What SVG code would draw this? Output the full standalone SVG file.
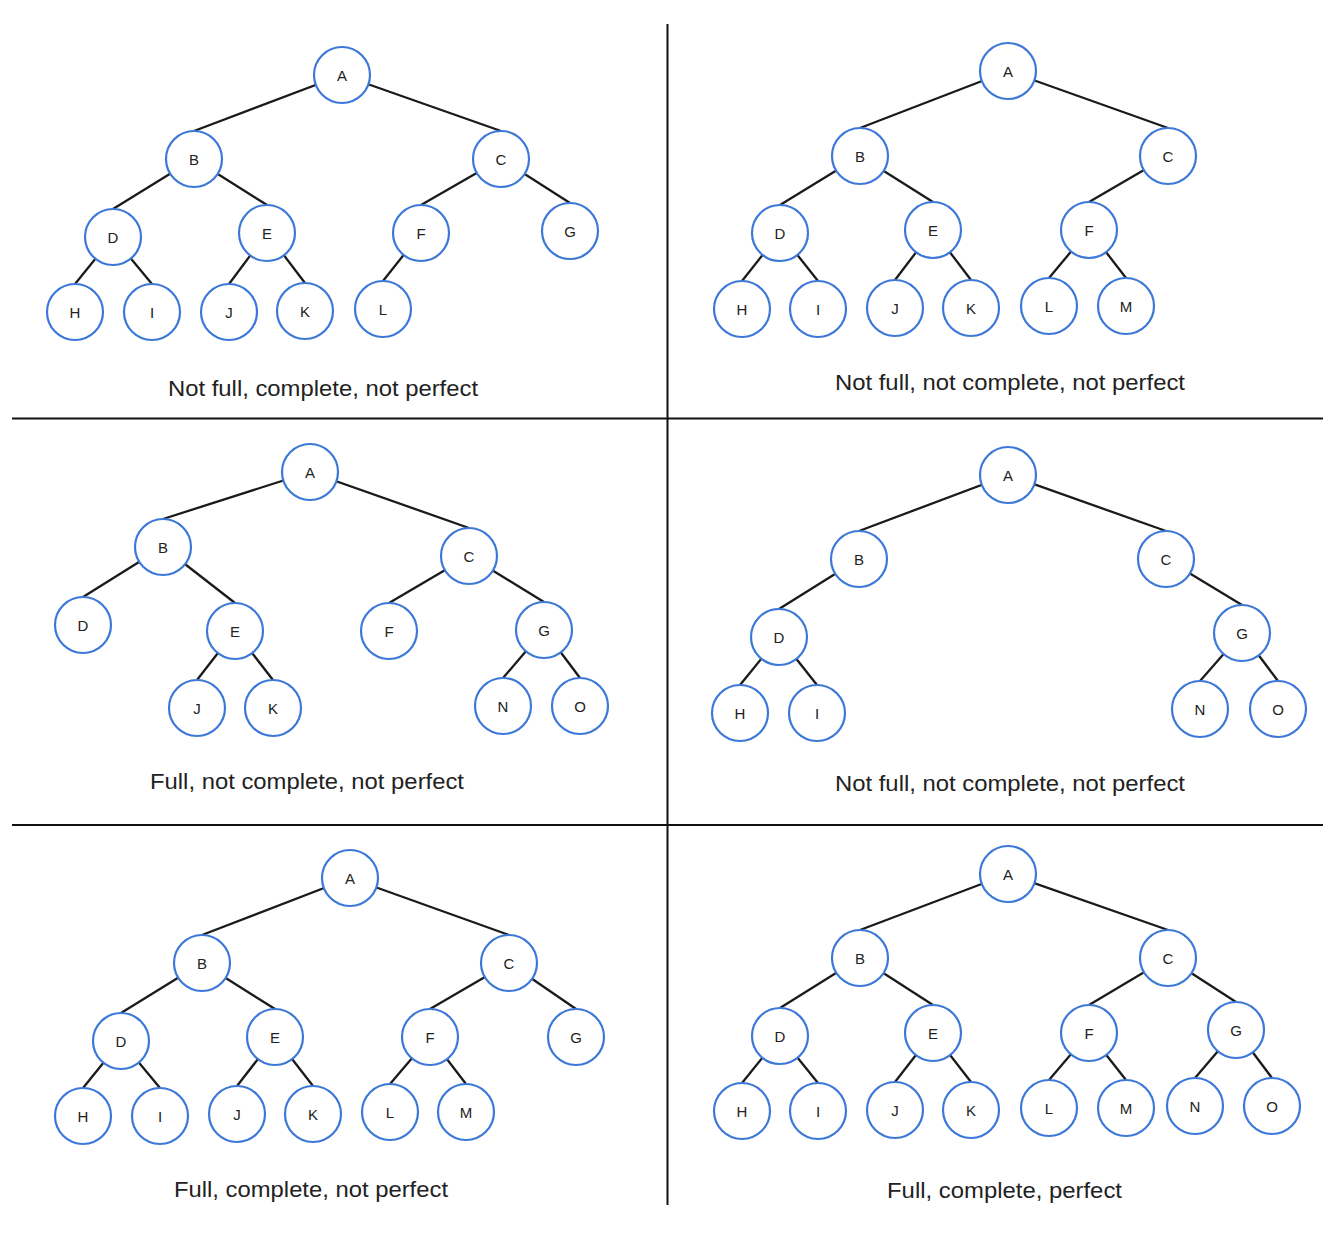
<svg xmlns="http://www.w3.org/2000/svg" width="1334" height="1236" viewBox="0 0 1334 1236">
<style>
.node circle{fill:#fff;stroke:#3c78d8;stroke-width:2.2}
.node text{font-family:"Liberation Sans",Arial,sans-serif;font-size:15px;fill:#222;text-anchor:middle}
.edges line{stroke:#1a1a1a;stroke-width:2.3}
.div line{stroke:#111;stroke-width:2}
.cap{font-family:"Liberation Sans",Arial,sans-serif;font-size:22px;fill:#222;text-anchor:start}
</style>
<rect width="1334" height="1236" fill="#fff"/>
<g class="div" id="dividers">
<line x1="667.5" y1="24" x2="667.5" y2="1205"/>
<line x1="12" y1="418.5" x2="1323" y2="418.5"/>
<line x1="12" y1="825" x2="1323" y2="825"/>
</g>
<g class="edges" id="connectors">
<!-- panel 1 -->
<line x1="342" y1="75" x2="194" y2="131"/>
<line x1="342" y1="75" x2="501" y2="131"/>
<line x1="194" y1="159" x2="113" y2="209"/>
<line x1="194" y1="159" x2="267" y2="205"/>
<line x1="501" y1="159" x2="421" y2="205"/>
<line x1="501" y1="159" x2="570" y2="203"/>
<line x1="113" y1="237" x2="75" y2="284"/>
<line x1="113" y1="237" x2="152" y2="284"/>
<line x1="267" y1="233" x2="229" y2="284"/>
<line x1="267" y1="233" x2="305" y2="283"/>
<line x1="421" y1="233" x2="383" y2="281"/>
<!-- panel 2 -->
<line x1="1008" y1="71" x2="860" y2="128"/>
<line x1="1008" y1="71" x2="1168" y2="128"/>
<line x1="860" y1="156" x2="780" y2="205"/>
<line x1="860" y1="156" x2="933" y2="202"/>
<line x1="1168" y1="156" x2="1089" y2="202"/>
<line x1="780" y1="233" x2="742" y2="281"/>
<line x1="780" y1="233" x2="818" y2="281"/>
<line x1="933" y1="230" x2="895" y2="280"/>
<line x1="933" y1="230" x2="971" y2="280"/>
<line x1="1089" y1="230" x2="1049" y2="278"/>
<line x1="1089" y1="230" x2="1126" y2="278"/>
<!-- panel 3 -->
<line x1="310" y1="472" x2="163" y2="519"/>
<line x1="310" y1="472" x2="469" y2="528"/>
<line x1="163" y1="547" x2="83" y2="597"/>
<line x1="163" y1="547" x2="235" y2="603"/>
<line x1="469" y1="556" x2="389" y2="603"/>
<line x1="469" y1="556" x2="544" y2="602"/>
<line x1="235" y1="631" x2="197" y2="680"/>
<line x1="235" y1="631" x2="273" y2="680"/>
<line x1="544" y1="630" x2="503" y2="678"/>
<line x1="544" y1="630" x2="580" y2="678"/>
<!-- panel 4 -->
<line x1="1008" y1="475" x2="859" y2="531"/>
<line x1="1008" y1="475" x2="1166" y2="531"/>
<line x1="859" y1="559" x2="779" y2="609"/>
<line x1="1166" y1="559" x2="1242" y2="605"/>
<line x1="779" y1="637" x2="740" y2="685"/>
<line x1="779" y1="637" x2="817" y2="685"/>
<line x1="1242" y1="633" x2="1200" y2="681"/>
<line x1="1242" y1="633" x2="1278" y2="681"/>
<!-- panel 5 -->
<line x1="350" y1="878" x2="202" y2="935"/>
<line x1="350" y1="878" x2="509" y2="935"/>
<line x1="202" y1="963" x2="121" y2="1013"/>
<line x1="202" y1="963" x2="275" y2="1009"/>
<line x1="509" y1="963" x2="430" y2="1009"/>
<line x1="509" y1="963" x2="576" y2="1009"/>
<line x1="121" y1="1041" x2="83" y2="1088"/>
<line x1="121" y1="1041" x2="160" y2="1088"/>
<line x1="275" y1="1037" x2="237" y2="1086"/>
<line x1="275" y1="1037" x2="313" y2="1086"/>
<line x1="430" y1="1037" x2="390" y2="1084"/>
<line x1="430" y1="1037" x2="466" y2="1084"/>
<!-- panel 6 -->
<line x1="1008" y1="874" x2="860" y2="930"/>
<line x1="1008" y1="874" x2="1168" y2="930"/>
<line x1="860" y1="958" x2="780" y2="1008"/>
<line x1="860" y1="958" x2="933" y2="1005"/>
<line x1="1168" y1="958" x2="1089" y2="1005"/>
<line x1="1168" y1="958" x2="1236" y2="1002"/>
<line x1="780" y1="1036" x2="742" y2="1083"/>
<line x1="780" y1="1036" x2="818" y2="1083"/>
<line x1="933" y1="1033" x2="895" y2="1082"/>
<line x1="933" y1="1033" x2="971" y2="1082"/>
<line x1="1089" y1="1033" x2="1049" y2="1080"/>
<line x1="1089" y1="1033" x2="1126" y2="1080"/>
<line x1="1236" y1="1030" x2="1195" y2="1078"/>
<line x1="1236" y1="1030" x2="1272" y2="1078"/>
</g>
<!-- panel 1 nodes -->
<g class="node" id="p1-A"><circle cx="342" cy="75" r="28"/><text x="342" y="80.5">A</text></g>
<g class="node" id="p1-B"><circle cx="194" cy="159" r="28"/><text x="194" y="164.5">B</text></g>
<g class="node" id="p1-C"><circle cx="501" cy="159" r="28"/><text x="501" y="164.5">C</text></g>
<g class="node" id="p1-D"><circle cx="113" cy="237" r="28"/><text x="113" y="242.5">D</text></g>
<g class="node" id="p1-E"><circle cx="267" cy="233" r="28"/><text x="267" y="238.5">E</text></g>
<g class="node" id="p1-F"><circle cx="421" cy="233" r="28"/><text x="421" y="238.5">F</text></g>
<g class="node" id="p1-G"><circle cx="570" cy="231" r="28"/><text x="570" y="236.5">G</text></g>
<g class="node" id="p1-H"><circle cx="75" cy="312" r="28"/><text x="75" y="317.5">H</text></g>
<g class="node" id="p1-I"><circle cx="152" cy="312" r="28"/><text x="152" y="317.5">I</text></g>
<g class="node" id="p1-J"><circle cx="229" cy="312" r="28"/><text x="229" y="317.5">J</text></g>
<g class="node" id="p1-K"><circle cx="305" cy="311" r="28"/><text x="305" y="316.5">K</text></g>
<g class="node" id="p1-L"><circle cx="383" cy="309" r="28"/><text x="383" y="314.5">L</text></g>
<text class="cap" x="168" y="396" textLength="310" lengthAdjust="spacingAndGlyphs">Not full, complete, not perfect</text>
<!-- panel 2 nodes -->
<g class="node" id="p2-A"><circle cx="1008" cy="71" r="28"/><text x="1008" y="76.5">A</text></g>
<g class="node" id="p2-B"><circle cx="860" cy="156" r="28"/><text x="860" y="161.5">B</text></g>
<g class="node" id="p2-C"><circle cx="1168" cy="156" r="28"/><text x="1168" y="161.5">C</text></g>
<g class="node" id="p2-D"><circle cx="780" cy="233" r="28"/><text x="780" y="238.5">D</text></g>
<g class="node" id="p2-E"><circle cx="933" cy="230" r="28"/><text x="933" y="235.5">E</text></g>
<g class="node" id="p2-F"><circle cx="1089" cy="230" r="28"/><text x="1089" y="235.5">F</text></g>
<g class="node" id="p2-H"><circle cx="742" cy="309" r="28"/><text x="742" y="314.5">H</text></g>
<g class="node" id="p2-I"><circle cx="818" cy="309" r="28"/><text x="818" y="314.5">I</text></g>
<g class="node" id="p2-J"><circle cx="895" cy="308" r="28"/><text x="895" y="313.5">J</text></g>
<g class="node" id="p2-K"><circle cx="971" cy="308" r="28"/><text x="971" y="313.5">K</text></g>
<g class="node" id="p2-L"><circle cx="1049" cy="306" r="28"/><text x="1049" y="311.5">L</text></g>
<g class="node" id="p2-M"><circle cx="1126" cy="306" r="28"/><text x="1126" y="311.5">M</text></g>
<text class="cap" x="835" y="390" textLength="350" lengthAdjust="spacingAndGlyphs">Not full, not complete, not perfect</text>
<!-- panel 3 nodes -->
<g class="node" id="p3-A"><circle cx="310" cy="472" r="28"/><text x="310" y="477.5">A</text></g>
<g class="node" id="p3-B"><circle cx="163" cy="547" r="28"/><text x="163" y="552.5">B</text></g>
<g class="node" id="p3-C"><circle cx="469" cy="556" r="28"/><text x="469" y="561.5">C</text></g>
<g class="node" id="p3-D"><circle cx="83" cy="625" r="28"/><text x="83" y="630.5">D</text></g>
<g class="node" id="p3-E"><circle cx="235" cy="631" r="28"/><text x="235" y="636.5">E</text></g>
<g class="node" id="p3-F"><circle cx="389" cy="631" r="28"/><text x="389" y="636.5">F</text></g>
<g class="node" id="p3-G"><circle cx="544" cy="630" r="28"/><text x="544" y="635.5">G</text></g>
<g class="node" id="p3-J"><circle cx="197" cy="708" r="28"/><text x="197" y="713.5">J</text></g>
<g class="node" id="p3-K"><circle cx="273" cy="708" r="28"/><text x="273" y="713.5">K</text></g>
<g class="node" id="p3-N"><circle cx="503" cy="706" r="28"/><text x="503" y="711.5">N</text></g>
<g class="node" id="p3-O"><circle cx="580" cy="706" r="28"/><text x="580" y="711.5">O</text></g>
<text class="cap" x="150" y="789" textLength="314" lengthAdjust="spacingAndGlyphs">Full, not complete, not perfect</text>
<!-- panel 4 nodes -->
<g class="node" id="p4-A"><circle cx="1008" cy="475" r="28"/><text x="1008" y="480.5">A</text></g>
<g class="node" id="p4-B"><circle cx="859" cy="559" r="28"/><text x="859" y="564.5">B</text></g>
<g class="node" id="p4-C"><circle cx="1166" cy="559" r="28"/><text x="1166" y="564.5">C</text></g>
<g class="node" id="p4-D"><circle cx="779" cy="637" r="28"/><text x="779" y="642.5">D</text></g>
<g class="node" id="p4-G"><circle cx="1242" cy="633" r="28"/><text x="1242" y="638.5">G</text></g>
<g class="node" id="p4-H"><circle cx="740" cy="713" r="28"/><text x="740" y="718.5">H</text></g>
<g class="node" id="p4-I"><circle cx="817" cy="713" r="28"/><text x="817" y="718.5">I</text></g>
<g class="node" id="p4-N"><circle cx="1200" cy="709" r="28"/><text x="1200" y="714.5">N</text></g>
<g class="node" id="p4-O"><circle cx="1278" cy="709" r="28"/><text x="1278" y="714.5">O</text></g>
<text class="cap" x="835" y="791" textLength="350" lengthAdjust="spacingAndGlyphs">Not full, not complete, not perfect</text>
<!-- panel 5 nodes -->
<g class="node" id="p5-A"><circle cx="350" cy="878" r="28"/><text x="350" y="883.5">A</text></g>
<g class="node" id="p5-B"><circle cx="202" cy="963" r="28"/><text x="202" y="968.5">B</text></g>
<g class="node" id="p5-C"><circle cx="509" cy="963" r="28"/><text x="509" y="968.5">C</text></g>
<g class="node" id="p5-D"><circle cx="121" cy="1041" r="28"/><text x="121" y="1046.5">D</text></g>
<g class="node" id="p5-E"><circle cx="275" cy="1037" r="28"/><text x="275" y="1042.5">E</text></g>
<g class="node" id="p5-F"><circle cx="430" cy="1037" r="28"/><text x="430" y="1042.5">F</text></g>
<g class="node" id="p5-G"><circle cx="576" cy="1037" r="28"/><text x="576" y="1042.5">G</text></g>
<g class="node" id="p5-H"><circle cx="83" cy="1116" r="28"/><text x="83" y="1121.5">H</text></g>
<g class="node" id="p5-I"><circle cx="160" cy="1116" r="28"/><text x="160" y="1121.5">I</text></g>
<g class="node" id="p5-J"><circle cx="237" cy="1114" r="28"/><text x="237" y="1119.5">J</text></g>
<g class="node" id="p5-K"><circle cx="313" cy="1114" r="28"/><text x="313" y="1119.5">K</text></g>
<g class="node" id="p5-L"><circle cx="390" cy="1112" r="28"/><text x="390" y="1117.5">L</text></g>
<g class="node" id="p5-M"><circle cx="466" cy="1112" r="28"/><text x="466" y="1117.5">M</text></g>
<text class="cap" x="174" y="1197" textLength="274" lengthAdjust="spacingAndGlyphs">Full, complete, not perfect</text>
<!-- panel 6 nodes -->
<g class="node" id="p6-A"><circle cx="1008" cy="874" r="28"/><text x="1008" y="879.5">A</text></g>
<g class="node" id="p6-B"><circle cx="860" cy="958" r="28"/><text x="860" y="963.5">B</text></g>
<g class="node" id="p6-C"><circle cx="1168" cy="958" r="28"/><text x="1168" y="963.5">C</text></g>
<g class="node" id="p6-D"><circle cx="780" cy="1036" r="28"/><text x="780" y="1041.5">D</text></g>
<g class="node" id="p6-E"><circle cx="933" cy="1033" r="28"/><text x="933" y="1038.5">E</text></g>
<g class="node" id="p6-F"><circle cx="1089" cy="1033" r="28"/><text x="1089" y="1038.5">F</text></g>
<g class="node" id="p6-G"><circle cx="1236" cy="1030" r="28"/><text x="1236" y="1035.5">G</text></g>
<g class="node" id="p6-H"><circle cx="742" cy="1111" r="28"/><text x="742" y="1116.5">H</text></g>
<g class="node" id="p6-I"><circle cx="818" cy="1111" r="28"/><text x="818" y="1116.5">I</text></g>
<g class="node" id="p6-J"><circle cx="895" cy="1110" r="28"/><text x="895" y="1115.5">J</text></g>
<g class="node" id="p6-K"><circle cx="971" cy="1110" r="28"/><text x="971" y="1115.5">K</text></g>
<g class="node" id="p6-L"><circle cx="1049" cy="1108" r="28"/><text x="1049" y="1113.5">L</text></g>
<g class="node" id="p6-M"><circle cx="1126" cy="1108" r="28"/><text x="1126" y="1113.5">M</text></g>
<g class="node" id="p6-N"><circle cx="1195" cy="1106" r="28"/><text x="1195" y="1111.5">N</text></g>
<g class="node" id="p6-O"><circle cx="1272" cy="1106" r="28"/><text x="1272" y="1111.5">O</text></g>
<text class="cap" x="887" y="1198" textLength="235" lengthAdjust="spacingAndGlyphs">Full, complete, perfect</text>
</svg>
